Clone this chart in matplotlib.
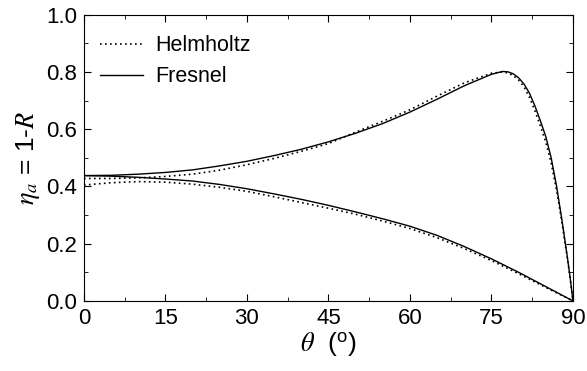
import numpy as np
import matplotlib
matplotlib.use('Agg')
import matplotlib.pyplot as plt

plt.rcParams['font.family'] = ['Liberation Sans', 'DejaVu Sans']
plt.rcParams['mathtext.fontset'] = 'stix'

# angle of incidence (degrees) and absorptance values
theta_p = [0, 5, 10, 15, 20, 25, 30, 35, 40, 45, 50, 55, 60, 65, 70, 75, 77, 78, 79,
           80, 81, 82, 83, 84, 85, 86, 87, 88, 89, 89.5, 90]
fresnel_p = [0.438, 0.439, 0.443, 0.449, 0.458, 0.472, 0.488, 0.508, 0.530, 0.556,
             0.586, 0.620, 0.660, 0.705, 0.752, 0.792, 0.802, 0.801, 0.794, 0.780,
             0.758, 0.726, 0.682, 0.630, 0.575, 0.500, 0.400, 0.280, 0.150, 0.080, 0.0]
helm_p = [0.428, 0.428, 0.430, 0.435, 0.443, 0.457, 0.476, 0.498, 0.523, 0.550,
          0.590, 0.628, 0.668, 0.716, 0.762, 0.796, 0.800, 0.797, 0.788, 0.772,
          0.748, 0.712, 0.665, 0.612, 0.556, 0.482, 0.386, 0.272, 0.146, 0.078, 0.0]

theta_s = [0, 5, 10, 15, 20, 25, 30, 35, 40, 45, 50, 55, 60, 65, 70, 75, 80, 85, 90]
fresnel_s = [0.438, 0.436, 0.432, 0.426, 0.419, 0.407, 0.392, 0.374, 0.355, 0.334,
             0.311, 0.287, 0.261, 0.229, 0.190, 0.147, 0.100, 0.050, 0.0]
helm_s = [0.405, 0.413, 0.417, 0.415, 0.408, 0.397, 0.383, 0.364, 0.344, 0.324,
          0.303, 0.279, 0.253, 0.221, 0.183, 0.141, 0.095, 0.047, 0.0]

fig = plt.figure(figsize=(5.87, 3.71), dpi=100)
ax = fig.add_axes([0.143, 0.189, 0.833, 0.771])

ax.plot(theta_p, helm_p, color='black', lw=1.2, ls=(0, (1, 2)), label='Helmholtz')
ax.plot(theta_s, helm_s, color='black', lw=1.2, ls=(0, (1, 2)))
ax.plot(theta_p, fresnel_p, color='black', lw=1.0, label='Fresnel')
ax.plot(theta_s, fresnel_s, color='black', lw=1.0)

ax.set_xlim(0, 90)
ax.set_ylim(0, 1.0)
ax.set_xticks(np.arange(0, 91, 15))
ax.set_xticks(np.arange(0, 91, 7.5), minor=True)
ax.set_yticks(np.arange(0, 1.01, 0.2))
ax.set_yticks(np.arange(0, 1.01, 0.1), minor=True)
ax.set_yticklabels(['0.0', '0.2', '0.4', '0.6', '0.8', '1.0'])
ax.tick_params(which='both', direction='in', top=True, right=True, labelsize=16)
ax.tick_params(which='major', length=5, pad=5)
ax.tick_params(which='minor', length=3)

ax.set_xlabel(r'$\theta$  ($^{\mathregular{o}}$)', fontsize=19, labelpad=1)
ax.set_ylabel(r'$\eta_a$ = 1-$R$', fontsize=19, labelpad=3)

ax.legend(loc='upper left', frameon=False, fontsize=15.5, handlelength=2.0,
          handletextpad=0.55, labelspacing=0.45, borderaxespad=0,
          bbox_to_anchor=(0.016, 0.958))

fig.savefig('out.png', dpi=100)
